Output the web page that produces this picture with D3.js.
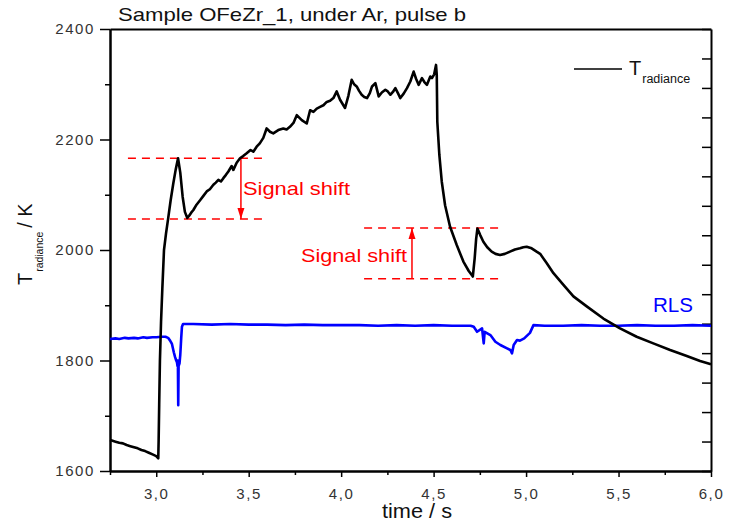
<!DOCTYPE html>
<html><head><meta charset="utf-8">
<script src="https://cdn.jsdelivr.net/npm/d3@7"></script>
<style>body{margin:0;background:#fff}svg{display:block;font-family:"Liberation Sans",Arial,sans-serif}</style>
</head><body><svg id="c" width="734" height="523"></svg>
<script>
// ---- data ----
const tradTime = [2.75,2.76,2.78,2.80,2.82,2.84,2.86,2.88,2.90,2.92,2.94,2.96,2.98,3.00,3.005,3.011,
 3.013,3.016,3.020,3.026,3.033,3.042,3.053,3.064,3.078,3.092,3.105,3.118,
 3.13,3.143,3.155,3.168,3.178,3.19,3.20,3.218,3.237,3.255,3.273,3.29,3.309,3.322,3.336,3.35,3.363,3.377,3.39,3.408,3.417,3.435,3.453,3.47,3.489,3.51,3.525,3.543,3.56,3.579,
 3.597,3.615,3.633,3.66,3.687,3.705,3.723,3.742,3.76,3.787,3.814,3.832,3.85,3.868,3.886,3.904,3.922,3.94,3.958,3.976,3.994,4.021,4.039,4.057,4.07,4.084,4.097,4.111,4.125,4.14,
 4.155,4.167,4.185,4.203,4.22,4.239,4.252,4.266,4.28,4.293,4.307,4.32,4.338,4.356,4.374,4.392,4.405,4.419,4.437,4.45,4.464,4.482,4.491,4.503,4.513,4.517,
 4.52,4.531,4.544,4.562,4.589,4.625,4.661,4.69,4.706,4.712,4.722,4.73,4.737,4.752,4.769,4.79,4.814,4.835,4.859,4.885,4.913,4.94,4.967,4.985,5.003,5.03,5.057,5.076,
 5.112,5.148,5.202,5.256,5.328,5.418,5.508,5.598,5.688,5.779,5.869,5.941,6.0];
const tradValue = [1656,1655,1653,1651,1650,1647,1645,1643,1641,1638,1636,1633,1630,1627,1625,1623,
 1655,1720,1800,1870,1930,2000,2030,2056,2090,2120,2145,2166,
 2140,2096,2069,2058,2062,2068,2072,2082,2090,2098,2106,2110,2118,2122,2127,2124,2130,2136,2142,2152,2145,2158,2166,2170,2175,2181,2178,2187,2193,2203,
 2220,2214,2211,2217,2220,2218,2223,2230,2244,2235,2229,2253,2250,2256,2259,2262,2268,2270,2275,2287,2272,2257,2279,2308,2300,2296,2288,2281,2277,2275,
 2284,2296,2302,2278,2285,2290,2287,2281,2286,2293,2284,2275,2283,2293,2305,2323,2310,2299,2311,2304,2299,2314,2311,2318,2335,2317,
 2232,2172,2124,2081,2042,2009,1979,1962,1955,1952,1985,2020,2039,2027,2015,2005,1997,1993,1991,1993,1997,2001,2003,2005,2006,2003,1997,1993,
 1976,1958,1937,1916,1898,1876,1858,1843,1831,1819,1808,1799,1793];

const rlsTime = [2.75,2.78,2.80,2.83,2.85,2.88,2.90,2.93,2.95,2.98,3.0,3.03,3.05,3.064,3.075,3.085,3.095,3.102,3.108,3.112,3.115,3.117,3.119,3.121,3.126,3.13,3.135,3.139,3.145,
 3.2,3.3,3.4,3.5,3.6,3.7,3.8,3.9,4.0,4.1,4.2,4.3,4.4,4.5,4.6,4.7,4.717,4.735,4.762,4.771,4.776,4.807,4.834,4.861,4.897,4.915,4.924,4.933,4.951,4.967,4.99,5.021,5.04,
 5.1,5.2,5.3,5.4,5.5,5.6,5.7,5.8,5.9,6.0];
const rlsValue = [1839,1840,1839,1841,1840,1841,1840,1842,1841,1842,1842,1843,1843,1841,1836,1830,1815,1806,1800,1797,1790,1800,1719,1790,1795,1810,1840,1861,1866,
 1866,1865,1866,1865,1865,1864,1865,1864,1864,1864,1863,1864,1863,1864,1863,1863,1861,1852,1858,1831,1852,1846,1834,1828,1822,1819,1813,1828,1837,1836,1840,1850,1864,
 1863,1863,1864,1863,1863,1864,1863,1863,1864,1863];

const yMajorTicks = [1600,1800,2000,2200,2400];
const yMinorTicks = [1700,1900,2100,2300];
const xMajorTicks = [3.0,3.5,4.0,4.5,5.0,5.5,6.0];
const xMinorTicks = [2.75,3.25,3.75,4.25,4.75,5.25,5.75];
const rightTicks = d3.range(0,16);

const titleText = "Sample OFeZr_1, under Ar, pulse b";
const xLabel = "time / s";
const shift1 = {x1:2.847, x2:3.577, top:2166, bottom:2056, ax:3.458, label:"Signal shift"};
const shift2 = {x1:4.124, x2:4.859, top:2040, bottom:1948, ax:4.383, label:"Signal shift"};

// ---- layout ----
const L=110, R=711, T=29, B=471;
const svg = d3.select("#c");
const x = d3.scaleLinear().domain([2.75,6.0]).range([L,R]);
const y = d3.scaleLinear().domain([1600,2400]).range([B,T]);
const yr = d3.scaleLinear().domain([0,15]).range([B,T]);
const fmt = d => d3.format(".1f")(d).replace(".",",");

// axes
svg.append("g").attr("transform",`translate(${L},0)`)
  .call(d3.axisLeft(y).tickValues(yMajorTicks).tickSize(10).tickSizeOuter(0).tickPadding(5).tickFormat(d3.format("d")));
svg.append("g").attr("transform",`translate(${L},0)`)
  .call(d3.axisLeft(y).tickValues(yMinorTicks).tickSize(5).tickSizeOuter(0).tickFormat(""));
svg.append("g").attr("transform",`translate(0,${B})`)
  .call(d3.axisBottom(x).tickValues(xMajorTicks).tickSize(6).tickSizeOuter(0).tickPadding(11).tickFormat(fmt));
svg.append("g").attr("transform",`translate(0,${B})`)
  .call(d3.axisBottom(x).tickValues(xMinorTicks).tickSize(4).tickSizeOuter(0).tickFormat(""));
svg.append("g").attr("transform",`translate(${R},0)`)
  .call(d3.axisLeft(yr).tickValues(rightTicks).tickSize(9).tickSizeOuter(0).tickFormat(""));
svg.append("g").attr("transform",`translate(0,${T})`)
  .call(d3.axisTop(x).tickValues([]).tickSizeOuter(0));
svg.selectAll(".domain").attr("stroke","#000").attr("stroke-width",2);
svg.selectAll(".tick line").attr("stroke","#000").attr("stroke-width",1.5);
svg.selectAll(".tick text").attr("fill","#333").attr("font-size",15).attr("font-family","Liberation Sans, Arial, sans-serif").style("letter-spacing","1.6px");

// annotations
function shift(s, arrowUp){
  const g = svg.append("g");
  [s.top, s.bottom].forEach(v=>{
    g.append("line").attr("x1",x(s.x1)).attr("x2",x(s.x2)).attr("y1",y(v)).attr("y2",y(v))
      .attr("stroke","#ff0000").attr("stroke-width",1.5).attr("stroke-dasharray","8,6");
  });
  const ax=x(s.ax);
  g.append("line").attr("x1",ax).attr("x2",ax).attr("y1",y(s.top)).attr("y2",y(s.bottom))
    .attr("stroke","#ff0000").attr("stroke-width",1.5);
  const tip = arrowUp ? y(s.top) : y(s.bottom);
  const dir = arrowUp ? 1 : -1;
  g.append("path").attr("d",`M${ax},${tip} L${ax-3.5},${tip+dir*11} L${ax+3.5},${tip+dir*11} Z`).attr("fill","#ff0000");
  return g;
}
shift(shift1,false);
shift(shift2,true);
svg.append("text").attr("x",243).attr("y",195).attr("fill","#ff0000").attr("font-size",19)
  .attr("textLength",107).attr("lengthAdjust","spacingAndGlyphs").text(shift1.label);
svg.append("text").attr("x",301).attr("y",262).attr("fill","#ff0000").attr("font-size",19)
  .attr("textLength",106).attr("lengthAdjust","spacingAndGlyphs").text(shift2.label);

// lines
const line = d3.line().x(d=>x(d[0])).y(d=>y(d[1]));
svg.append("path").datum(d3.zip(rlsTime,rlsValue)).attr("d",line)
  .attr("fill","none").attr("stroke","#0000ff").attr("stroke-width",2.6).attr("stroke-linejoin","round");
svg.append("path").datum(d3.zip(tradTime,tradValue)).attr("d",line)
  .attr("fill","none").attr("stroke","#000").attr("stroke-width",2.6).attr("stroke-linejoin","round");

// title and labels
svg.append("text").attr("x",118).attr("y",21).attr("font-size",19).attr("fill","#111")
  .attr("textLength",348).attr("lengthAdjust","spacingAndGlyphs").text(titleText);
svg.append("text").attr("x",382).attr("y",518).attr("font-size",20).attr("fill","#111")
  .attr("textLength",70).attr("lengthAdjust","spacingAndGlyphs").text(xLabel);

const yl = svg.append("text").attr("transform","translate(32,285) rotate(-90)").attr("fill","#111").attr("font-size",20);
yl.append("tspan").text("T");
yl.append("tspan").attr("font-size",11).attr("dy",11).attr("dx",1).attr("textLength",40).attr("lengthAdjust","spacingAndGlyphs").text("radiance");
yl.append("tspan").attr("dy",-11).attr("dx",4).text("/ K");

// legend
svg.append("line").attr("x1",574).attr("x2",622).attr("y1",69).attr("y2",69).attr("stroke","#000").attr("stroke-width",1.6);
const lg = svg.append("text").attr("x",629).attr("y",75).attr("fill","#111").attr("font-size",20);
lg.append("tspan").text("T");
lg.append("tspan").attr("font-size",12).attr("dy",8).attr("dx",1).attr("textLength",48).attr("lengthAdjust","spacingAndGlyphs").text("radiance");

svg.append("text").attr("x",653).attr("y",312).attr("fill","#0000ff").attr("font-size",20)
  .attr("textLength",40).attr("lengthAdjust","spacingAndGlyphs").text("RLS");
</script></body></html>
